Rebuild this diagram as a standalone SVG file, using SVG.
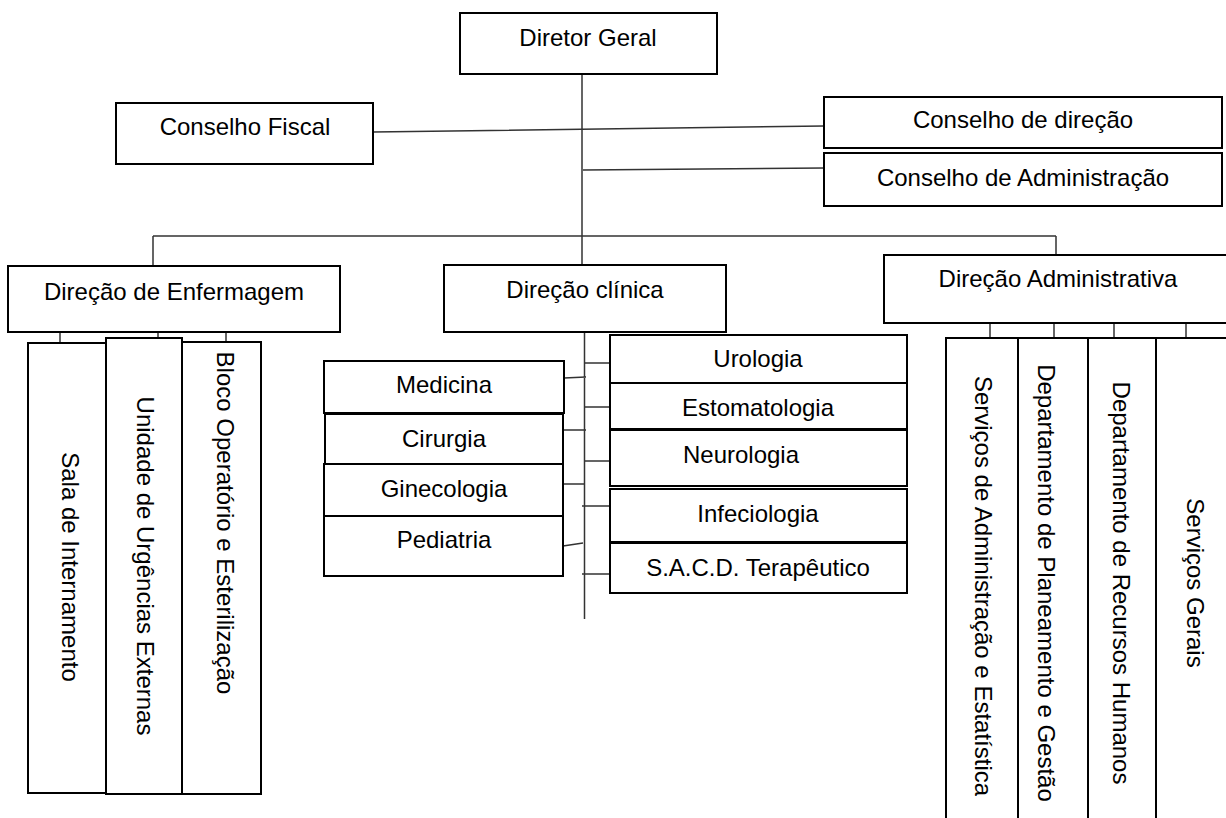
<svg xmlns="http://www.w3.org/2000/svg" width="1226" height="818" viewBox="0 0 1226 818">
<style>
.box{fill:#fff;stroke:#000;stroke-width:2}
.ln{stroke:#333;stroke-width:1.5;fill:none}
text{font-family:"Liberation Sans",Arial,sans-serif;font-size:24px;fill:#000}
.c{text-anchor:middle}
</style>
<rect width="1226" height="818" fill="#fff"/>
<g id="connectors">
<path class="ln" d="M582,74 V265 M583,170 L824,168 M373,132 L824,126 M153,236 H1056 M153,236 V266 M1056,236 V255"/>
<path class="ln" d="M60,323 V343 M158,323 V338 M226,323 V342"/>
<path class="ln" d="M990,323 V338 M1054,314 V338 M1114,314 V338 M1186,313 V338"/>
<path class="ln" d="M584.5,326 V619 M584,363 H610 M584,407 H610 M584,461 H610 M582,506 H610 M582,574 H610 M564,378 L586,377 M563,430 H586 M563,484 H585 M563,546 L583,543"/>
</g>
<g id="n-diretor"><rect class="box" x="460" y="13" width="257" height="61"/><text class="c" x="588" y="46">Diretor Geral</text></g>
<g id="n-fiscal"><rect class="box" x="116" y="103" width="257" height="61"/><text class="c" x="245" y="135">Conselho Fiscal</text></g>
<g id="n-cdir"><rect class="box" x="824" y="97" width="398" height="51"/><text class="c" x="1023" y="128">Conselho de direção</text></g>
<g id="n-cadm"><rect class="box" x="824" y="153" width="398" height="53"/><text class="c" x="1023" y="186">Conselho de Administração</text></g>
<g id="n-enf"><rect class="box" x="8" y="266" width="332" height="66"/><text class="c" x="174" y="300">Direção de Enfermagem</text></g>
<g id="n-clin"><rect class="box" x="444" y="265" width="282" height="67"/><text class="c" x="585" y="298">Direção clínica</text></g>
<g id="n-adm"><rect class="box" x="884" y="255" width="350" height="68"/><text class="c" x="1058" y="287">Direção Administrativa</text></g>
<g id="n-sala"><rect class="box" x="28" y="343" width="78" height="450"/><text class="c" transform="translate(62,567) rotate(90)">Sala de Internamento</text></g>
<g id="n-unid"><rect class="box" x="106" y="338" width="76" height="456"/><text class="c" transform="translate(137,566) rotate(90)">Unidade de Urgências Externas</text></g>
<g id="n-bloco"><rect class="box" x="182" y="342" width="79" height="452"/><text class="c" transform="translate(217,523) rotate(90)">Bloco Operatório e Esterilização</text></g>
<g id="n-medicina"><rect class="box" x="324" y="361" width="240" height="52"/><text class="c" x="444" y="393">Medicina</text></g>
<g id="n-cirurgia"><rect class="box" x="325" y="414" width="238" height="50"/><text class="c" x="444" y="447">Cirurgia</text></g>
<g id="n-gineco"><rect class="box" x="324" y="464" width="239" height="52"/><text class="c" x="444" y="497">Ginecologia</text></g>
<g id="n-pedia"><rect class="box" x="324" y="516" width="239" height="60"/><text class="c" x="444" y="548">Pediatria</text></g>
<g id="n-uro"><rect class="box" x="610" y="335" width="297" height="48"/><text class="c" x="758" y="367">Urologia</text></g>
<g id="n-esto"><rect class="box" x="610" y="383" width="297" height="46"/><text class="c" x="758" y="416">Estomatologia</text></g>
<g id="n-neuro"><rect class="box" x="610" y="430" width="297" height="56"/><text class="c" x="741" y="463">Neurologia</text></g>
<g id="n-infe"><rect class="box" x="610" y="489" width="297" height="53"/><text class="c" x="758" y="522">Infeciologia</text></g>
<g id="n-sacd"><rect class="box" x="610" y="543" width="297" height="50"/><text class="c" x="758" y="576">S.A.C.D. Terapêutico</text></g>
<g id="n-sae"><rect class="box" x="946" y="338" width="72" height="500"/><text class="c" transform="translate(975,586) rotate(90)">Serviços de Administração e Estatística</text></g>
<g id="n-dpg"><rect class="box" x="1018" y="338" width="70" height="500"/><text class="c" transform="translate(1038,583) rotate(90)">Departamento de Planeamento e Gestão</text></g>
<g id="n-drh"><rect class="box" x="1088" y="338" width="68" height="500"/><text class="c" transform="translate(1113,583) rotate(90)">Departamento de Recursos Humanos</text></g>
<g id="n-sg"><rect class="box" x="1156" y="338" width="80" height="500"/><text class="c" transform="translate(1187,583) rotate(90)">Serviços Gerais</text></g>
</svg>
